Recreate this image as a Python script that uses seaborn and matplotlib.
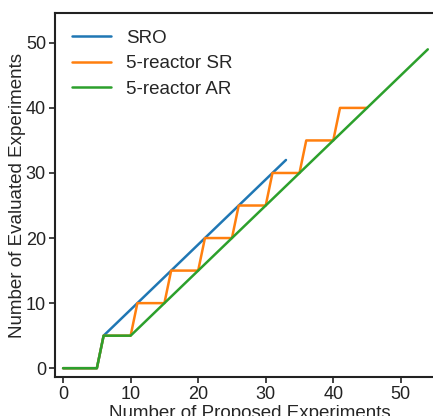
import pandas as pd
import seaborn as sns
import matplotlib.pyplot as plt

# data
sro_x = [0, 5, 6, 33]
sro_y = [0, 0, 5, 32]
sr_x = [0, 5, 6, 10, 11, 15, 16, 20, 21, 25, 26, 30, 31, 35, 36, 40, 41, 45]
sr_y = [0, 0, 5, 5, 10, 10, 15, 15, 20, 20, 25, 25, 30, 30, 35, 35, 40, 40]
ar_x = [0, 5, 6, 10, 54]
ar_y = [0, 0, 5, 5, 49]
series = ['SRO', '5-reactor SR', '5-reactor AR']

df = pd.concat([
    pd.DataFrame({'x': sro_x, 'y': sro_y, 'run': series[0]}),
    pd.DataFrame({'x': sr_x, 'y': sr_y, 'run': series[1]}),
    pd.DataFrame({'x': ar_x, 'y': ar_y, 'run': series[2]}),
], ignore_index=True)

sns.set_style('ticks')
plt.rcParams['font.family'] = ['Liberation Sans', 'DejaVu Sans']

fig = plt.figure(figsize=(4.33, 4.16), dpi=100)
ax = fig.add_axes([0.127, 0.093, 0.9, 0.876])

sns.lineplot(data=df, x='x', y='y', hue='run', hue_order=series, sort=False,
             estimator=None, palette=['#1f77b4', '#ff7f0e', '#2ca02c'],
             linewidth=1.8, ax=ax)

ax.set_xlim(-1.2, 56.5)
ax.set_ylim(-1.4, 54.6)
ax.set_xticks([0, 10, 20, 30, 40, 50])
ax.set_yticks([0, 10, 20, 30, 40, 50])
ax.tick_params(labelsize=13, length=4.5, width=1.2, colors='#222222', pad=2)
for s in ax.spines.values():
    s.set_linewidth(1.5)
    s.set_color('#222222')
ax.set_xlabel('Number of Proposed Experiments', fontsize=13.5, labelpad=1)
ax.set_ylabel('Number of Evaluated Experiments', fontsize=13.5, labelpad=0)
ax.legend(frameon=False, fontsize=13.5, loc='upper left', handlelength=2.1,
          borderaxespad=0.5, labelspacing=0.45)

fig.savefig('out.png', dpi=100)
